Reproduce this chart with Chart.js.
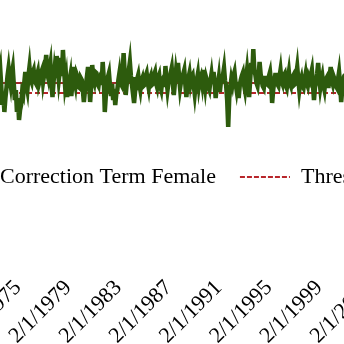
<!DOCTYPE html>
<html>
<head>
<meta charset="utf-8">
<script src="https://cdn.jsdelivr.net/npm/chart.js@4.4.0/dist/chart.umd.min.js"></script>
<style>
  html, body { margin: 0; padding: 0; background: #fff; width: 344px; height: 344px; overflow: hidden; }
  #wrap { position: absolute; left: -85px; top: 0; width: 640px; height: 368px; }
</style>
</head>
<body>
<div id="wrap"><canvas id="femaleChart" width="640" height="368"></canvas></div>
<script>
// correction term (female), monthly from 7/1/1973
var startYear = 1973;
var startMonth = 7;
var correctionFemale = [
  0.08, 0.14, 0.20, 0.02, -0.17, -0.05, -0.24, -0.10, 0.00, 0.12,
  0.20, 0.10, 0.03, 0.14, 0.20, 0.04, -0.12, -0.02, -0.24, -0.10,
  -0.32, -0.22, -0.17, -0.04, -0.07, 0.05, 0.16, 0.04, -0.02, 0.12,
  0.21, 0.09, 0.06, 0.15, 0.18, 0.07, 0.05, 0.12, 0.16, 0.04,
  0.08, 0.15, 0.18, 0.06, 0.13, 0.22, 0.33, 0.15, 0.10, 0.19,
  0.25, 0.05, -0.09, 0.06, 0.18, 0.10, 0.32, 0.20, 0.08, 0.17,
  0.30, 0.12, 0.38, 0.20, 0.03, 0.10, -0.09, -0.01, 0.06, 0.12,
  -0.08, 0.04, 0.21, 0.09, 0.03, 0.14, 0.11, 0.01, 0.00, 0.10,
  0.08, -0.02, -0.14, -0.03, 0.03, 0.12, 0.21, 0.05, -0.14, 0.02,
  0.23, 0.10, 0.06, 0.16, 0.15, 0.04, 0.02, 0.11, 0.13, 0.03,
  0.26, 0.10, -0.24, -0.08, 0.03, 0.11, 0.15, 0.02, -0.08, 0.04,
  -0.12, -0.01, -0.17, -0.06, -0.02, 0.08, 0.15, 0.05, 0.03, 0.14,
  0.35, 0.16, -0.07, 0.04, 0.10, 0.18, 0.26, 0.12, 0.03, 0.11,
  -0.15, -0.03, 0.00, 0.09, 0.13, 0.04, -0.02, 0.07, 0.10, 0.02,
  0.03, 0.12, 0.15, 0.06, 0.00, 0.09, 0.12, 0.03, 0.04, 0.13,
  0.16, 0.05, 0.01, 0.10, 0.13, 0.02, -0.02, 0.08, 0.10, 0.01,
  0.22, 0.08, -0.02, 0.06, 0.08, 0.15, 0.20, 0.06, -0.07, 0.05,
  0.16, 0.08, 0.25, 0.12, 0.00, 0.07, 0.08, 0.14, 0.18, 0.04,
  -0.09, 0.02, 0.10, 0.15, 0.05, 0.11, 0.13, 0.03, -0.06, 0.04,
  0.08, 0.14, 0.02, 0.09, 0.12, 0.05, 0.18, 0.08, 0.00, 0.10,
  0.06, 0.01, -0.02, 0.07, 0.14, 0.04, 0.16, 0.06, -0.10, 0.01,
  0.02, 0.10, -0.04, 0.06, 0.08, 0.13, 0.20, 0.07, 0.03, -0.12,
  -0.39, -0.10, 0.00, 0.09, 0.04, 0.12, 0.16, 0.05, -0.02, 0.06,
  -0.10, 0.02, 0.08, 0.12, 0.15, 0.04, -0.02, 0.09, 0.18, 0.06,
  -0.09, 0.08, 0.25, 0.14, 0.39, 0.18, 0.13, 0.05, 0.02, 0.12,
  0.26, 0.14, 0.08, 0.02, 0.00, 0.10, 0.10, 0.04, 0.03, 0.12,
  0.16, 0.05, -0.15, -0.02, 0.06, 0.13, 0.13, 0.04, 0.02, 0.11,
  0.18, 0.07, 0.04, 0.12, 0.14, 0.03, 0.00, 0.09, 0.16, 0.05,
  0.02, 0.10, 0.12, 0.03, 0.04, 0.13, 0.21, 0.09, -0.02, 0.06,
  0.10, 0.02, 0.00, 0.08, 0.14, 0.05, 0.02, 0.11, 0.08, 0.13,
  0.18, 0.04, -0.12, 0.01, 0.06, 0.14, 0.25, 0.10, 0.00, 0.07,
  0.12, 0.03, -0.02, 0.08, 0.10, 0.02, 0.02, 0.12, 0.21, 0.08,
  0.04, 0.11, 0.08, 0.02, 0.00, 0.09, 0.16, 0.04, -0.14, -0.02,
  0.08, 0.12, 0.13
];
var thresholdValue = -0.05;
var meanValue = 0.05;
var tickYears = [1971, 1975, 1979, 1983, 1987, 1991, 1995, 1999, 2003, 2007, 2011, 2015];

var xMin = 1966.88;
var xMax = 2017.87;

var femalePoints = correctionFemale.map(function (v, i) {
  return { x: startYear + (startMonth - 1 + i) / 12, y: v };
});

new Chart(document.getElementById("femaleChart"), {
  type: "line",
  data: {
    datasets: [
      {
        label: "Correction Term Female",
        data: femalePoints,
        borderColor: "#2d5b0d",
        backgroundColor: "#2d5b0d",
        borderWidth: 4.5,
        pointRadius: 0,
        tension: 0
      },
      {
        label: "Threshold",
        data: [{ x: xMin, y: thresholdValue }, { x: xMax, y: thresholdValue }],
        borderColor: "#b8262b",
        backgroundColor: "#b8262b",
        borderWidth: 2,
        borderDash: [5, 3],
        pointRadius: 0
      },
      {
        label: "Mean",
        data: [{ x: xMin, y: meanValue }, { x: xMax, y: meanValue }],
        borderColor: "#a3282a",
        borderWidth: 2,
        pointRadius: 0
      }
    ]
  },
  options: {
    responsive: false,
    animation: false,
    layout: { padding: { top: 38, left: 0, right: 0, bottom: 0 } },
    plugins: {
      tooltip: { enabled: false },
      legend: {
        position: "bottom",
        align: "start",
        weight: -1,
        labels: {
          usePointStyle: true,
          pointStyleWidth: 50,
          padding: 24,
          color: "#000",
          font: { family: "Liberation Serif", size: 22 },
          generateLabels: function (chart) {
            var items = Chart.defaults.plugins.legend.labels.generateLabels(chart);
            items.forEach(function (it) {
              var ds = chart.data.datasets[it.datasetIndex];
              it.pointStyle = "line";
              it.strokeStyle = ds.borderColor;
              it.lineDash = ds.label === "Threshold" ? [5, 2] : [];
              it.lineWidth = ds.borderWidth;
            });
            return items;
          },
          filter: function (item) { return item.text !== "Mean"; }
        }
      }
    },
    scales: {
      x: {
        type: "linear",
        min: xMin,
        max: xMax,
        grid: { display: false },
        border: { display: false },
        afterBuildTicks: function (scale) {
          scale.ticks = tickYears.map(function (y) { return { value: y + 1 / 12 }; });
        },
        afterFit: function (scale) {
          scale.paddingLeft = 0;
          scale.paddingRight = 0;
          scale.height = 170;
        },
        ticks: {
          autoSkip: false,
          minRotation: 45,
          maxRotation: 45,
          padding: 69,
          color: "#000",
          font: { family: "Liberation Serif", size: 22 },
          callback: function (value) { return "2/1/" + Math.floor(value); }
        }
      },
      y: {
        display: false,
        min: -0.54,
        max: 0.5
      }
    }
  }
});
</script>
</body>
</html>
